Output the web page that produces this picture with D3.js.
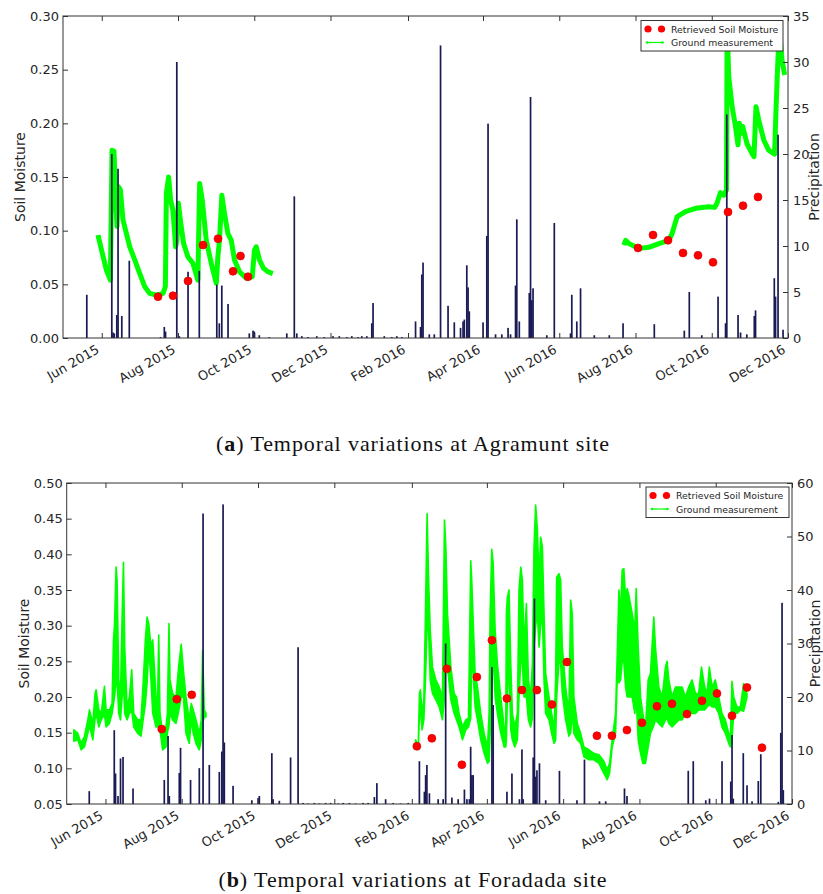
<!DOCTYPE html>
<html><head><meta charset="utf-8">
<script src="https://cdn.jsdelivr.net/npm/d3@7"></script>
<style>
body{margin:0;background:#fff;}
svg{display:block;font-family:"DejaVu Sans",sans-serif;}
</style></head><body>
<svg id="c" width="823" height="894"></svg>
<script>
// ---------- shared ----------
const X_START = "2015-05-01", X_END = "2016-12-01";
const DAY0 = "2015-06-01";            // all day offsets below count from this date
const xTickDates = ["2015-06-01","2015-08-01","2015-10-01","2015-12-01","2016-02-01",
                    "2016-04-01","2016-06-01","2016-08-01","2016-10-01","2016-12-01"];
const legendLabels = ["Retrieved Soil Moisture","Ground measurement"];

// ---------- (a) Agramunt ----------
const agrSmTicks = [0,0.05,0.10,0.15,0.20,0.25,0.30];
const agrPrTicks = [0,5,10,15,20,25,30,35];
const agrGround1 = [[-3.0,0.096],[-0.2,0.082],[3.8,0.063],[6.9,0.054],[8.2,0.175],[9.8,0.174],[11.2,0.129],[12.2,0.104],[13.3,0.141],[14.9,0.138],[17.0,0.110],[19.7,0.0975],[22.4,0.085],[26.4,0.0727],[30.4,0.060],[34.3,0.048],[38.3,0.0416],[43.7,0.040],[49.0,0.0416],[50.9,0.048],[51.7,0.135],[53.5,0.150],[55.1,0.1286],[56.9,0.119],[58.3,0.0975],[59.1,0.085],[60.1,0.091],[61.3,0.1255],[62.9,0.110],[65.5,0.088],[68.9,0.0757],[72.9,0.0696],[76.9,0.054],[78.3,0.144],[80.4,0.1286],[83.6,0.091],[87.6,0.0696],[91.6,0.051],[92.9,0.0757],[94.2,0.091],[96.1,0.133],[98.2,0.116],[100.9,0.0975],[103.6,0.091],[106.2,0.0727],[110.2,0.0618],[115.6,0.0556],[120.4,0.057],[122.2,0.082],[123.6,0.085],[126.2,0.0727],[129.4,0.065],[132.8,0.0618],[136.8,0.060]];
const agrGround2 = [[417.7,0.0866],[419.1,0.091],[421.7,0.088],[429.7,0.0835],[437.7,0.0845],[445.7,0.088],[453.7,0.091],[456.3,0.0975],[460.3,0.113],[467.0,0.1177],[475.0,0.1208],[485.6,0.1223],[490.4,0.1217],[492.2,0.1255],[494.9,0.1354],[497.6,0.133],[499.8,0.138],[500.3,0.29],[501.6,0.2435],[504.3,0.2155],[507.0,0.197],[509.0,0.180],[510.1,0.200],[511.7,0.1907],[512.8,0.197],[516.2,0.181],[520.2,0.172],[521.8,0.169],[523.4,0.2155],[525.6,0.203],[529.6,0.1845],[533.5,0.175],[538.3,0.1714],[539.4,0.2124],[540.7,0.2528],[542.1,0.29],[544.2,0.259],[546.3,0.245]];
const agrRetrieved = [[45,0.0385],[57,0.0394],[69,0.0531],[81,0.0866],[93,0.0925],[105,0.0621],[111,0.0764],[117,0.0571],[429,0.0839],[441,0.096],[453,0.091],[465,0.0792],[477,0.077],[489,0.0705],[501,0.1174],[513,0.1233],[525,0.1314]];
const agrPrecip = [[-12,4.7],[8,20.0],[9,0.6],[10,0.5],[12,2.5],[13,18.4],[16,2.4],[22,8.4],[47,0.1],[50,1.2],[51,0.7],[60,30.0],[62,0.2],[69,7.2],[78,7.3],[92,5.8],[94,1.6],[96,5.7],[101,3.7],[118,0.5],[121,0.8],[122,0.7],[126,0.3],[134,0.1],[148,0.5],[154,15.4],[156,0.5],[160,0.2],[165,0.1],[172,0.2],[178,0.1],[185,0.2],[190,0.2],[196,0.1],[200,0.2],[205,0.1],[208,0.2],[212,0.2],[216,1.6],[217,3.8],[226,0.2],[232,0.1],[236,0.2],[240,0.1],[251,1.8],[255,1.2],[256,6.9],[257,8.2],[262,0.4],[266,0.4],[271,31.8],[277,3.5],[282,1.7],[287,1.1],[289,1.8],[290,2.0],[292,7.9],[293,5.5],[294,2.9],[305,1.7],[308,11.1],[309,23.3],[315,0.4],[320,0.4],[325,1.1],[327,0.4],[331,5.7],[332,12.9],[334,1.8],[342,4.9],[343,26.2],[344,4.1],[345,5.4],[356,0.3],[362,12.5],[375,0.5],[376,4.7],[380,1.8],[383,5.4],[394,0.3],[406,0.3],[417,1.6],[442,1.5],[466,0.8],[470,5.0],[480,0.3],[493,4.5],[499,1.6],[500,24.3],[509,2.5],[511,0.6],[516,0.4],[522,2.4],[523,3.0],[538,6.5],[539,4.5],[541,22.1],[545,0.9]];

// ---------- (b) Foradada ----------
const forSmTicks = [0.05,0.10,0.15,0.20,0.25,0.30,0.35,0.40,0.45,0.50];
const forPrTicks = [0,10,20,30,40,50,60];
// [day, low, high] envelope of the dense hourly record
const forGround1 = [[-25.3,0.138,0.154],[-22.1,0.140,0.149],[-19.5,0.126,0.135],[-16.8,0.130,0.145],[-14.1,0.149,0.168],[-12.8,0.160,0.182],[-10.1,0.140,0.163],[-8.3,0.170,0.205],[-7.5,0.177,0.210],[-5.3,0.158,0.182],[-3.4,0.168,0.177],[-0.8,0.175,0.215],[0.5,0.158,0.182],[3.2,0.163,0.182],[5.3,0.177,0.191],[6.4,0.19,0.28],[7.2,0.2,0.30],[8.5,0.22,0.382],[9.3,0.224,0.364],[10.6,0.177,0.224],[12.0,0.168,0.200],[13.3,0.2,0.312],[14.4,0.22,0.389],[15.4,0.177,0.270],[17.3,0.168,0.186],[19.1,0.177,0.200],[21.0,0.18,0.238],[22.6,0.158,0.177],[25.8,0.149,0.168],[28.4,0.145,0.168],[30.3,0.17,0.224],[31.9,0.19,0.28],[33.3,0.22,0.312],[34.6,0.27,0.303],[36.4,0.224,0.27],[37.8,0.177,0.28],[39.1,0.168,0.242],[40.4,0.158,0.2],[41.5,0.158,0.177],[42.6,0.16,0.287],[43.6,0.154,0.177],[45.7,0.126,0.149],[48.4,0.13,0.158],[49.5,0.15,0.177],[50.8,0.16,0.303],[51.6,0.177,0.224],[53.7,0.168,0.205],[56.4,0.163,0.2],[58.5,0.18,0.242],[60.6,0.2,0.274],[62.3,0.2,0.238],[64.4,0.149,0.2],[67.0,0.135,0.168],[68.6,0.168,0.191],[70.2,0.149,0.182],[72.4,0.135,0.168],[75.0,0.126,0.149],[76.6,0.14,0.168],[77.7,0.163,0.265],[79.0,0.172,0.182],[80.4,0.172,0.177]];
const forGround2 = [[248.0,0.13,0.14],[250.1,0.126,0.130],[251.1,0.177,0.205],[251.9,0.18,0.21],[253.2,0.154,0.177],[254.6,0.168,0.196],[255.9,0.224,0.317],[257.2,0.3,0.457],[258.4,0.294,0.364],[259.7,0.224,0.294],[261.5,0.205,0.242],[264.2,0.196,0.224],[266.9,0.186,0.214],[269.5,0.168,0.2],[271.1,0.2,0.448],[272.2,0.317,0.41],[273.5,0.242,0.317],[276.2,0.196,0.242],[278.8,0.177,0.205],[280.7,0.168,0.2],[282.8,0.158,0.177],[285.5,0.14,0.158],[288.2,0.154,0.168],[290.3,0.158,0.17],[292.1,0.17,0.391],[292.9,0.27,0.364],[294.3,0.224,0.294],[295.6,0.186,0.233],[297.5,0.168,0.214],[300.1,0.14,0.177],[302.8,0.121,0.149],[305.5,0.107,0.13],[306.8,0.11,0.177],[307.6,0.15,0.317],[308.9,0.2,0.407],[310.0,0.27,0.389],[311.6,0.2,0.294],[313.4,0.177,0.247],[316.1,0.149,0.2],[318.8,0.13,0.158],[320.1,0.13,0.149],[320.6,0.14,0.317],[321.4,0.2,0.34],[322.7,0.25,0.35],[324.1,0.154,0.247],[325.4,0.14,0.177],[327.3,0.13,0.158],[329.4,0.14,0.177],[330.7,0.2,0.35],[332.1,0.25,0.382],[333.4,0.247,0.364],[334.7,0.2,0.27],[336.6,0.2,0.331],[338.2,0.168,0.224],[340.0,0.158,0.2],[341.4,0.17,0.247],[342.7,0.27,0.41],[344.0,0.3,0.469],[345.4,0.317,0.434],[346.7,0.27,0.364],[348.0,0.3,0.424],[349.4,0.317,0.41],[350.7,0.224,0.317],[352.0,0.177,0.233],[354.7,0.168,0.2],[356.8,0.149,0.177],[358.7,0.135,0.154],[360.0,0.14,0.224],[360.8,0.2,0.368],[362.7,0.25,0.373],[364.0,0.247,0.364],[365.3,0.205,0.27],[368.0,0.168,0.214],[370.6,0.145,0.177],[372.0,0.15,0.336],[373.3,0.177,0.317],[374.6,0.149,0.2],[377.3,0.14,0.163],[380.0,0.135,0.149],[382.6,0.116,0.13],[386.6,0.112,0.126],[390.6,0.112,0.121],[394.6,0.107,0.119],[398.6,0.093,0.11],[401.2,0.084,0.098],[403.1,0.093,0.107],[405.2,0.13,0.14],[407.9,0.149,0.177],[409.2,0.224,0.256],[410.6,0.22,0.35],[411.9,0.224,0.317],[413.2,0.25,0.378],[414.5,0.25,0.38],[415.9,0.214,0.34],[417.2,0.2,0.352],[418.5,0.2,0.343],[421.2,0.2,0.317],[423.3,0.177,0.294],[424.4,0.2,0.352],[426.0,0.14,0.27],[427.9,0.121,0.2],[429.7,0.107,0.177],[431.8,0.107,0.154],[434.0,0.13,0.224],[435.8,0.149,0.233],[438.5,0.16,0.312],[439.8,0.168,0.27],[442.5,0.163,0.214],[445.2,0.158,0.2],[447.8,0.168,0.242],[449.1,0.17,0.25],[450.5,0.163,0.224],[453.1,0.158,0.2],[455.8,0.163,0.214],[458.5,0.168,0.214],[461.1,0.168,0.214],[463.8,0.177,0.2],[466.4,0.177,0.214],[469.1,0.177,0.224],[471.8,0.177,0.205],[474.4,0.182,0.205],[476.6,0.182,0.242],[479.2,0.182,0.214],[481.1,0.186,0.205],[482.9,0.19,0.242],[485.1,0.186,0.214],[487.7,0.186,0.224],[490.4,0.177,0.2],[493.0,0.158,0.177],[495.7,0.149,0.168],[498.4,0.135,0.149],[499.7,0.13,0.14],[501.0,0.14,0.222],[502.4,0.177,0.2],[505.0,0.177,0.186],[507.7,0.182,0.186],[510.3,0.18,0.219],[513.0,0.2,0.205]];
const forRetrieved = [[45,0.155],[57,0.197],[69,0.203],[249,0.131],[261,0.142],[273,0.2395],[285,0.105],[297,0.228],[309,0.2797],[321,0.198],[333,0.2097],[345,0.2097],[357,0.1896],[369,0.249],[393,0.1457],[405,0.1457],[417,0.1536],[429,0.1639],[441,0.187],[453,0.1905],[465,0.176],[477,0.1947],[489,0.205],[501,0.1737],[513,0.2134],[525,0.129]];
const forPrecip = [[-13,2.4],[7,13.8],[8,5.7],[10,1.5],[12,8.5],[14,8.8],[22,2.9],[47,4.5],[50,12.7],[51,1.5],[59,5.8],[60,10.5],[68,4.5],[75,6.7],[78,54.3],[83,7.3],[91,6.0],[93,9.8],[94,56.0],[95,11.5],[102,3.4],[117,0.7],[122,1.1],[123,1.5],[133,9.5],[134,0.9],[139,0.6],[148,8.7],[154,29.3],[158,0.2],[162,0.1],[167,0.2],[171,0.1],[176,0.2],[180,0.2],[186,0.1],[190,0.2],[195,0.2],[200,0.1],[206,0.2],[210,0.2],[215,1.3],[217,3.9],[224,0.9],[230,0.2],[236,0.1],[242,0.2],[251,8.0],[255,2.3],[256,5.4],[257,7.3],[259,2.0],[266,0.9],[270,0.9],[272,30.0],[277,1.2],[282,0.9],[287,2.7],[289,0.9],[291,0.9],[292,10.7],[293,5.4],[294,5.4],[309,25.6],[310,18.5],[321,2.3],[325,5.7],[331,0.9],[333,10.2],[334,0.9],[342,8.7],[343,38.4],[344,5.1],[345,6.3],[347,7.6],[352,0.7],[363,6.2],[377,0.7],[383,8.3],[395,0.5],[400,0.5],[415,2.9],[417,1.5],[466,6.2],[470,8.0],[480,0.7],[483,1.0],[493,8.0],[500,4.2],[501,12.9],[502,1.0],[510,9.5],[513,3.5],[517,0.5],[522,4.3],[524,9.3],[538,0.4],[540,13.3],[541,37.6],[542,2.6]];

// ---------- drawing ----------
const svg = d3.select("#c");
const parse = d3.timeParse("%Y-%m-%d");
const base = parse(DAY0);
const toDate = d => new Date(base.getTime() + d * 864e5);
const TXT = "#262626", FRAME = "#333", GREEN = "#00ff00", RED = "#ff0000", BAR = "#1a1a55";

function panel(o) {
  const {L, R, T, B} = o;
  const x = d3.scaleTime().domain([parse(X_START), parse(X_END)]).range([L, R]);
  const ySm = d3.scaleLinear().domain(o.smDomain).range([B, T]);
  const yPr = d3.scaleLinear().domain(o.prDomain).range([B, T]);
  const g = svg.append("g");
  const cid = "clip" + o.id;
  g.append("clipPath").attr("id", cid).append("rect")
    .attr("x", L).attr("y", T).attr("width", R - L).attr("height", B - T);
  const plot = g.append("g").attr("clip-path", `url(#${cid})`);

  // ground measurement
  if (o.band) {
    const area = d3.area().x(d => x(toDate(d[0]))).y0(d => ySm(d[1])).y1(d => ySm(d[2]));
    o.ground.forEach(seg => {
      plot.append("path").attr("d", area(seg)).attr("fill", GREEN)
        .attr("stroke", GREEN).attr("stroke-width", 1.6).attr("stroke-linejoin", "round");
    });
  } else {
    const line = d3.line().x(d => x(toDate(d[0]))).y(d => ySm(d[1]));
    o.ground.forEach(seg => {
      plot.append("path").attr("d", line(seg)).attr("fill", "none")
        .attr("stroke", GREEN).attr("stroke-width", 5).attr("stroke-linejoin", "round");
    });
  }
  // precipitation bars
  plot.selectAll("rect.bar").data(o.precip).join("rect").attr("class", "bar")
    .attr("x", d => x(toDate(d[0])) - 0.8).attr("width", 1.7)
    .attr("y", d => yPr(d[1])).attr("height", d => B - yPr(d[1]))
    .attr("fill", BAR);
  // retrieved soil moisture
  plot.selectAll("circle.ret").data(o.retrieved).join("circle").attr("class", "ret")
    .attr("cx", d => x(toDate(d[0]))).attr("cy", d => ySm(d[1])).attr("r", 4)
    .attr("fill", RED).attr("stroke", "#d00000").attr("stroke-width", 0.6);

  // axes
  const ticks = xTickDates.map(parse);
  const ax = g.append("g").attr("transform", `translate(0,${B})`)
    .call(d3.axisBottom(x).tickValues(ticks).tickFormat(d3.timeFormat("%b %Y")).tickSize(-5));
  ax.selectAll("text").attr("x", 0).attr("y", 0).attr("dy", null)
    .attr("text-anchor", "end").attr("transform", "translate(-2,14) rotate(-30)");
  g.append("g").attr("transform", `translate(0,${T})`)
    .call(d3.axisTop(x).tickValues(ticks).tickFormat("").tickSize(-5));
  g.append("g").attr("transform", `translate(${L},0)`)
    .call(d3.axisLeft(ySm).tickValues(o.smTicks).tickFormat(d3.format(".2f")).tickSize(-5).tickPadding(4));
  g.append("g").attr("transform", `translate(${R},0)`)
    .call(d3.axisRight(yPr).tickValues(o.prTicks).tickFormat(d3.format("d")).tickSize(-5).tickPadding(5));
  g.selectAll(".domain").remove();
  g.selectAll(".tick line").attr("stroke", FRAME);
  g.selectAll(".tick text").attr("fill", TXT).attr("font-size", 13).attr("font-family", "DejaVu Sans");
  g.append("rect").attr("x", L).attr("y", T).attr("width", R - L).attr("height", B - T)
    .attr("fill", "none").attr("stroke", FRAME).attr("stroke-width", 1);

  // axis titles
  const mid = (T + B) / 2;
  g.append("text").attr("transform", `translate(${o.leftLabelX},${mid}) rotate(-90)`)
    .attr("text-anchor", "middle").attr("font-size", 14).attr("fill", TXT).text("Soil Moisture");
  g.append("text").attr("transform", `translate(${o.rightLabelX},${mid}) rotate(-90)`)
    .attr("text-anchor", "middle").attr("font-size", 14).attr("fill", TXT).text("Precipitation");

  // legend
  const lg = g.append("g").attr("transform", `translate(${o.legend[0]},${o.legend[1]})`);
  lg.append("rect").attr("x", 0).attr("y", 0).attr("width", o.legend[2]).attr("height", 30.5)
    .attr("fill", "#fff").attr("stroke", FRAME).attr("stroke-width", 1);
  [7, 20.5].forEach(cx => lg.append("circle").attr("cx", cx).attr("cy", 8.5).attr("r", 3.6).attr("fill", RED));
  lg.append("line").attr("x1", 6).attr("x2", 21.5).attr("y1", 22).attr("y2", 22)
    .attr("stroke", GREEN).attr("stroke-width", 1.2);
  [6, 21.5].forEach(cx => lg.append("circle").attr("cx", cx).attr("cy", 22).attr("r", 1.3).attr("fill", GREEN));
  legendLabels.forEach((t, i) => lg.append("text").attr("x", 30).attr("y", 12 + i * 13.5)
    .attr("font-size", 9.3).attr("fill", TXT).text(t));

  // caption
  const cap = svg.append("text").attr("x", 413).attr("y", o.captionY).attr("text-anchor", "middle")
    .attr("font-family", "Liberation Serif, serif").attr("font-size", 22).attr("letter-spacing", 0.9)
    .attr("fill", "#111");
  cap.append("tspan").text("(");
  cap.append("tspan").attr("font-weight", "bold").text(o.letter);
  cap.append("tspan").text(") " + o.caption);
}

panel({id: "a", L: 63, R: 788, T: 16, B: 338, smDomain: [0, 0.30], prDomain: [0, 35],
  smTicks: agrSmTicks, prTicks: agrPrTicks, ground: [agrGround1, agrGround2], band: false,
  retrieved: agrRetrieved, precip: agrPrecip, leftLabelX: 25, rightLabelX: 819,
  legend: [641, 20.5, 142], captionY: 451, letter: "a",
  caption: "Temporal variations at Agramunt site"});
panel({id: "b", L: 66.7, R: 792, T: 483, B: 804, smDomain: [0.05, 0.50], prDomain: [0, 60],
  smTicks: forSmTicks, prTicks: forPrTicks, ground: [forGround1, forGround2], band: true,
  retrieved: forRetrieved, precip: forPrecip, leftLabelX: 29, rightLabelX: 819.5,
  legend: [646, 487, 143], captionY: 887, letter: "b",
  caption: "Temporal variations at Foradada site"});
</script></body></html>
